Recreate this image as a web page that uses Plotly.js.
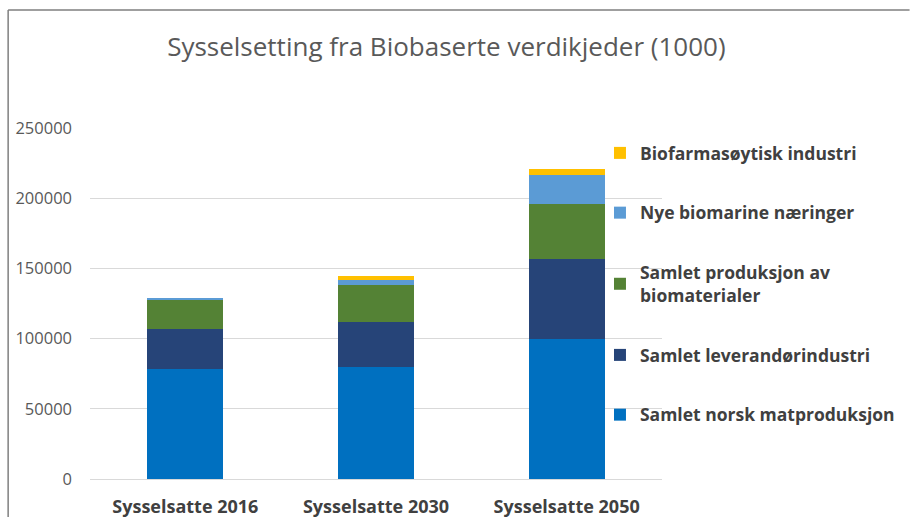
<!DOCTYPE html>
<html><head><meta charset="utf-8">
<script src="https://cdn.plot.ly/plotly-3.0.1.min.js"></script>
<style>html,body{margin:0;padding:0;background:#fff}#c{width:911px;height:517px}</style>
</head><body><div id="c"></div>
<script>
const categories = ["Sysselsatte 2016", "Sysselsatte 2030", "Sysselsatte 2050"];
const matproduksjon = [78000, 80000, 100000];
const leverandor = [28500, 31600, 57000];
const biomaterialer = [20800, 26300, 39200];
const biomarine = [1300, 4000, 20000];
const biofarma = [400, 2400, 4500];
const seriesNames = ["Samlet norsk matproduksjon", "Samlet leverandørindustri", "Samlet produksjon av<br>biomaterialer", "Nye biomarine næringer", "Biofarmasøytisk industri"];
const seriesColors = ["#0070C0", "#264478", "#548235", "#5B9BD5", "#FFC000"];
const seriesValues = [matproduksjon, leverandor, biomaterialer, biomarine, biofarma];

const traces = seriesValues.map((v, i) => ({
  type: "bar", x: categories, y: v, name: seriesNames[i],
  legendgroup: "g" + i, legendrank: 100 - i,
  marker: {color: seriesColors[i], line: {width: 0}},
  hoverinfo: "y+name"
}));

const font = "'Open Sans', 'Noto Sans', sans-serif";
const layout = {
  width: 911, height: 517,
  margin: {l: 90, r: 248, t: 128, b: 38},
  paper_bgcolor: "#fff", plot_bgcolor: "#fff",
  barmode: "stack", bargap: 0.6,
  title: {text: "Sysselsetting fra Biobaserte verdikjeder (1000)", x: 0.49, xanchor: "center", y: 0.91, yanchor: "middle",
          font: {family: font, size: 26, color: "#595959"}},
  xaxis: {showgrid: false, zeroline: false, showline: false, ticks: "",
          tickfont: {family: font, size: 18, color: "#404040", weight: "bold"}, ticklabelstandoff: 15},
  yaxis: {range: [0, 250000], dtick: 50000, tickformat: "d", showgrid: true, gridcolor: "#D9D9D9", gridwidth: 1,
          zeroline: true, zerolinecolor: "#D9D9D9", showline: false, ticks: "",
          tickfont: {family: font, size: 16.5, color: "#595959"}, ticklabelstandoff: 17},
  legend: {x: 0.89, xanchor: "left", y: 0.98, yanchor: "top", traceorder: "grouped",
           tracegroupgap: 34, font: {family: font, size: 17.5, color: "#404040", weight: "bold"},
           itemwidth: 30, bgcolor: "rgba(0,0,0,0)"},
  shapes: [
    {type: "line", xref: "paper", yref: "paper", x0: (8 - 90) / 573, x1: (8 - 90) / 573, y0: (479 - 10) / 351, y1: -0.2,
     line: {color: "#7F7F7F", width: 1.5}},
    {type: "line", xref: "paper", yref: "paper", x0: (8 - 90) / 573, x1: (911 - 90) / 573, y0: (479 - 10) / 351, y1: (479 - 10) / 351,
     line: {color: "#7F7F7F", width: 1.5}}
  ],
  showlegend: true
};
Plotly.newPlot("c", traces, layout, {displayModeBar: false, staticPlot: true});
</script></body></html>
